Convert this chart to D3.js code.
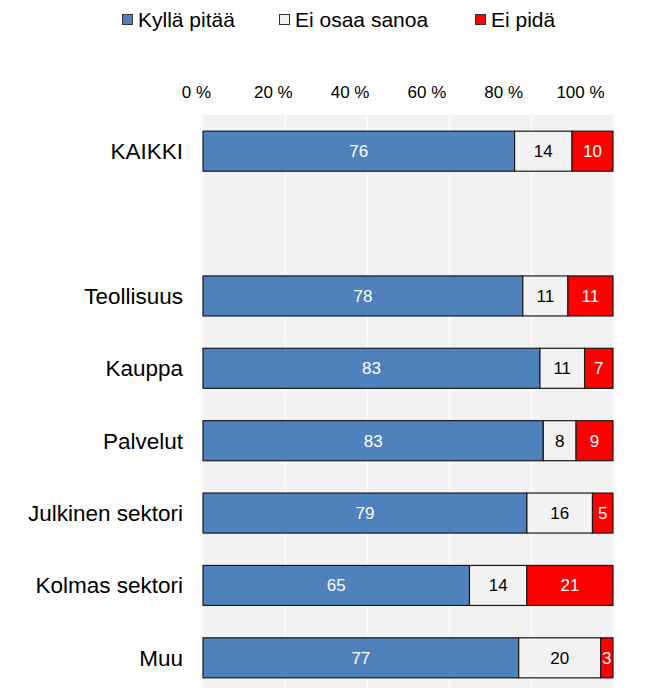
<!DOCTYPE html>
<html>
<head>
<meta charset="utf-8">
<script src="https://cdn.jsdelivr.net/npm/d3@7"></script>
<style>
  body { margin: 0; background: #fff; }
  svg { display: block; font-family: "Liberation Sans", Arial, sans-serif; }
</style>
</head>
<body>
<div id="chart"></div>
<script>
// data
const categories = ['KAIKKI', '', 'Teollisuus', 'Kauppa', 'Palvelut', 'Julkinen sektori', 'Kolmas sektori', 'Muu'];
const seriesNames = ['Kyllä pitää', 'Ei osaa sanoa', 'Ei pidä'];
const kyllaPitaa = [76, null, 78, 83, 83, 79, 65, 77];
const eiOsaaSanoa = [14, null, 11, 11, 8, 16, 14, 20];
const eiPida = [10, null, 11, 7, 9, 5, 21, 3];
const tickValues = [0, 20, 40, 60, 80, 100];

const colors = ['#4f81bd', '#f2f2f2', '#ff0000'];
const labelColors = ['#ffffff', '#000000', '#ffffff'];

const width = 657, height = 688;
const plot = { left: 203, right: 613, top: 115, bottom: 694 };

const svg = d3.select('#chart')
  .append('svg')
  .attr('width', width)
  .attr('height', height);

const x = d3.scaleLinear().domain([0, 100]).range([plot.left, plot.right]);
// tick labels sit a bit left of the gridlines in the original
const xAxisScale = d3.scaleLinear().domain([0, 100]).range([196, 580]);
const y = d3.scaleBand()
  .domain(d3.range(categories.length))
  .range([plot.top, plot.bottom])
  .paddingInner(0.447)
  .paddingOuter(0.2235);

// plot background
svg.append('rect')
  .attr('x', plot.left)
  .attr('y', plot.top)
  .attr('width', plot.right - plot.left)
  .attr('height', plot.bottom - plot.top)
  .attr('fill', '#f2f2f2');

// gridlines
svg.append('g')
  .selectAll('line')
  .data(tickValues.slice(1, -1))
  .enter()
  .append('line')
  .attr('x1', d => x(d) + 0.5)
  .attr('x2', d => x(d) + 0.5)
  .attr('y1', plot.top)
  .attr('y2', plot.bottom)
  .attr('stroke', '#ffffff')
  .attr('stroke-width', 1.5);

// top axis labels
const axis = d3.axisTop(xAxisScale)
  .tickValues(tickValues)
  .tickFormat(d => d + ' %')
  .tickSize(0)
  .tickPadding(0);
const axisG = svg.append('g')
  .attr('transform', 'translate(0,98)')
  .call(axis);
axisG.select('.domain').remove();
axisG.selectAll('text')
  .attr('font-size', 17)
  .attr('font-family', '"Liberation Sans", Arial, sans-serif')
  .attr('fill', '#000');

// category labels
svg.append('g')
  .selectAll('text')
  .data(categories)
  .enter()
  .append('text')
  .attr('x', 183)
  .attr('y', (d, i) => y(i) + y.bandwidth() / 2)
  .attr('dy', '0.35em')
  .attr('text-anchor', 'end')
  .attr('font-size', 22.5)
  .attr('fill', '#000')
  .text(d => d);

// stacked bars, 100 % stacked (rows scaled to their own total)
const rows = categories.map((c, i) => ({
  i: i,
  values: [kyllaPitaa[i], eiOsaaSanoa[i], eiPida[i]]
})).filter(r => r.values[0] != null);

const segments = [];
rows.forEach(r => {
  const total = d3.sum(r.values);
  let acc = 0;
  r.values.forEach((v, k) => {
    segments.push({ i: r.i, k: k, v: v, x0: acc / total * 100, x1: (acc + v) / total * 100 });
    acc += v;
  });
});

const barG = svg.append('g');
barG.selectAll('rect')
  .data(segments)
  .enter()
  .append('rect')
  .attr('x', d => x(d.x0))
  .attr('y', d => y(d.i))
  .attr('width', d => x(d.x1) - x(d.x0))
  .attr('height', y.bandwidth())
  .attr('fill', d => colors[d.k])
  .attr('stroke', '#1a1a1a')
  .attr('stroke-width', 1.2);

barG.selectAll('text')
  .data(segments)
  .enter()
  .append('text')
  .attr('x', d => x((d.x0 + d.x1) / 2))
  .attr('y', d => y(d.i) + y.bandwidth() / 2)
  .attr('dy', '0.35em')
  .attr('text-anchor', 'middle')
  .attr('font-size', 17)
  .attr('fill', d => labelColors[d.k])
  .text(d => d.v);

// legend
const legendX = [122, 279, 475];
const legend = svg.append('g')
  .selectAll('g')
  .data(seriesNames)
  .enter()
  .append('g')
  .attr('transform', (d, i) => 'translate(' + legendX[i] + ',0)');
legend.append('rect')
  .attr('x', 0.5)
  .attr('y', 14.5)
  .attr('width', 10)
  .attr('height', 10)
  .attr('fill', (d, i) => colors[i])
  .attr('stroke', '#333')
  .attr('stroke-width', 1);
legend.append('text')
  .attr('x', 16)
  .attr('y', 27)
  .attr('font-size', 21)
  .attr('fill', '#000')
  .text(d => d);
</script>
</body>
</html>
